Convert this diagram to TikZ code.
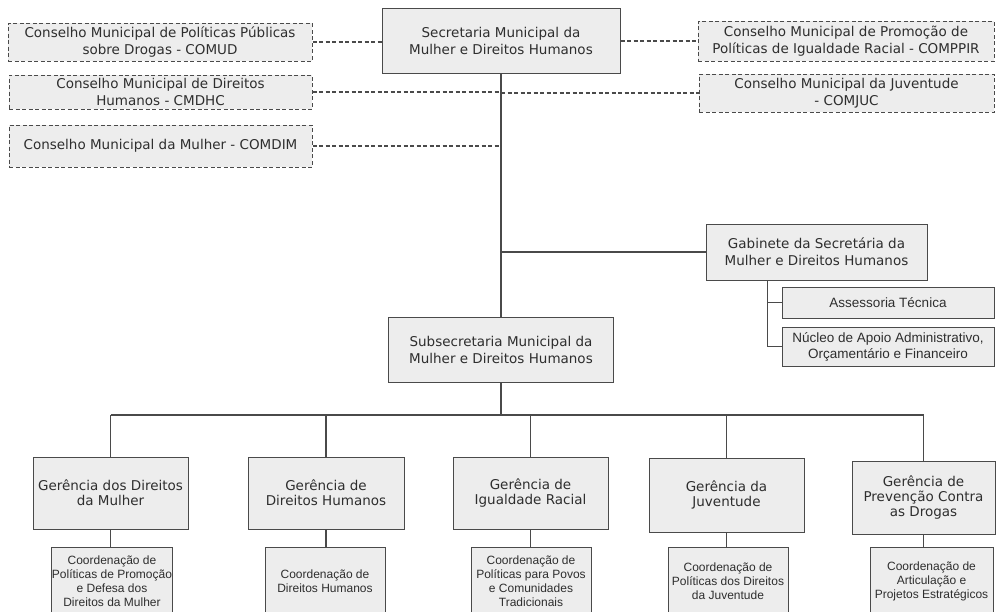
\documentclass[tikz,border=0pt]{standalone}
\usepackage{fontspec}
\setmainfont{DejaVu Sans}
\newfontfamily\coordfont{Liberation Sans}
\definecolor{boxgray}{HTML}{EDEDED}
\definecolor{linegray}{HTML}{4A4A4A}
\definecolor{textgray}{HTML}{2E2E2E}
\tikzset{
  unit/.style={draw=linegray, line width=1pt, fill=boxgray, text=textgray, align=center, inner sep=2pt, font=\fontsize{13.5}{17}\selectfont},
  council/.style={unit, dash pattern=on 4pt off 2.5pt},
  manager/.style={unit, font=\fontsize{13.5}{15}\selectfont},
  staff/.style={unit, font=\coordfont\fontsize{13.5}{16}\selectfont},
  coordbox/.style={unit, inner xsep=0pt, font=\coordfont\fontsize{12}{14}\selectfont, minimum width=120pt, minimum height=68pt},
  link/.style={draw=linegray, line width=1.3pt},
  dashlink/.style={draw=linegray, line width=1.1pt, dash pattern=on 4pt off 2.5pt}
}
\begin{document}
\begin{tikzpicture}[x=1pt, y=-1pt]
    \useasboundingbox (0,0) rectangle (996,611);
    \clip (0,0) rectangle (996,611);

    % Secretaria and councils
    \node[unit, minimum width=238pt, minimum height=65pt] (sec) at (501,40.5) {Secretaria Municipal da\\Mulher e Direitos Humanos};
    \node[council, minimum width=304pt, minimum height=38pt] (comud) at (160,42) {Conselho Municipal de Políticas Públicas\\sobre Drogas - COMUD};
    \node[council, minimum width=303pt, minimum height=34pt] (cmdhc) at (160.5,92) {Conselho Municipal de Direitos\\Humanos - CMDHC};
    \node[council, minimum width=303pt, minimum height=42pt] (comdim) at (160.5,146) {Conselho Municipal da Mulher - COMDIM};
    \node[council, minimum width=296pt, minimum height=40pt] (comppir) at (846,41) {Conselho Municipal de Promoção de\\Políticas de Igualdade Racial - COMPPIR};
    \node[council, minimum width=295pt, minimum height=38pt] (comjuc) at (846.5,93) {Conselho Municipal da Juventude\\- COMJUC};

    % Gabinete and its staff
    \node[unit, minimum width=221pt, minimum height=56pt] (gab) at (816.5,252) {Gabinete da Secretária da\\Mulher e Direitos Humanos};
    \node[staff, minimum width=212pt, minimum height=31pt] (assess) at (888,302.5) {Assessoria Técnica};
    \node[staff, minimum width=212pt, minimum height=39pt] (nucleo) at (888,346.5) {Núcleo de Apoio Administrativo,\\Orçamentário e Financeiro};

    % Subsecretaria
    \node[unit, minimum width=225pt, minimum height=65pt] (sub) at (501,349.5) {Subsecretaria Municipal da\\Mulher e Direitos Humanos};

    % Gerencias
    \node[manager, minimum width=155pt, minimum height=72pt] (gm) at (110.5,493) {Gerência dos Direitos\\da Mulher};
    \node[manager, minimum width=156pt, minimum height=72pt] (gdh) at (326,493) {Gerência de\\Direitos Humanos};
    \node[manager, minimum width=155pt, minimum height=72pt] (gir) at (530.5,493) {Gerência de\\Igualdade Racial};
    \node[manager, minimum width=155pt, minimum height=74pt] (gj) at (726.5,495) {Gerência da\\Juventude};
    \node[manager, minimum width=143pt, minimum height=73pt] (gd) at (923.5,497.5) {Gerência de\\Prevenção Contra\\as Drogas};

    % Coordenacoes
    \node[coordbox] (cm) at (112,581) {Coordenação de\\Políticas de Promoção\\e Defesa dos\\Direitos da Mulher};
    \node[coordbox] (cdh) at (325,581) {Coordenação de\\Direitos Humanos};
    \node[coordbox] (cir) at (531,581) {Coordenação de\\Políticas para Povos\\e Comunidades\\Tradicionais};
    \node[coordbox] (cj) at (728,581) {Coordenação de\\Políticas dos Direitos\\da Juventude};
    \node[coordbox, minimum width=123pt] (cd) at (931.5,581) {Coordenação de\\Articulação e\\Projetos Estratégicos};

    % Council links
    \draw[dashlink] (comud.east) -- (comud.east -| sec.west);
    \draw[dashlink] (sec.east |- comppir.west) -- (comppir.west);
    \draw[dashlink] (cmdhc.east) -- (cmdhc.east -| sec.south);
    \draw[dashlink] (comdim.east) -- (comdim.east -| sec.south);
    \draw[dashlink] (sec.south |- comjuc.west) -- (comjuc.west);

    % Main line and Gabinete branch
    \draw[link] (sec.south) -- (sub.north);
    \draw[link] (sec.south |- gab.west) -- (gab.west);
    \coordinate (gtap) at ([xshift=-14pt]nucleo.west);
    \draw[link] (gtap |- gab.south) -- (gtap) -- (nucleo.west);
    \draw[link] (gtap |- assess.west) -- (assess.west);

    % Bus to the gerencias
    \coordinate (bus) at (501,415);
    \draw[link] (sub.south) -- (bus);
    \draw[link] (gm.north |- bus) -- (gd.north |- bus);
    \foreach \g/\c in {gm/cm, gdh/cdh, gir/cir, gj/cj, gd/cd}{
        \draw[link] (\g.north |- bus) -- (\g.north);
        \draw[link] (\g.south) -- (\g.south |- \c.north);
    }
\end{tikzpicture}
\end{document}
